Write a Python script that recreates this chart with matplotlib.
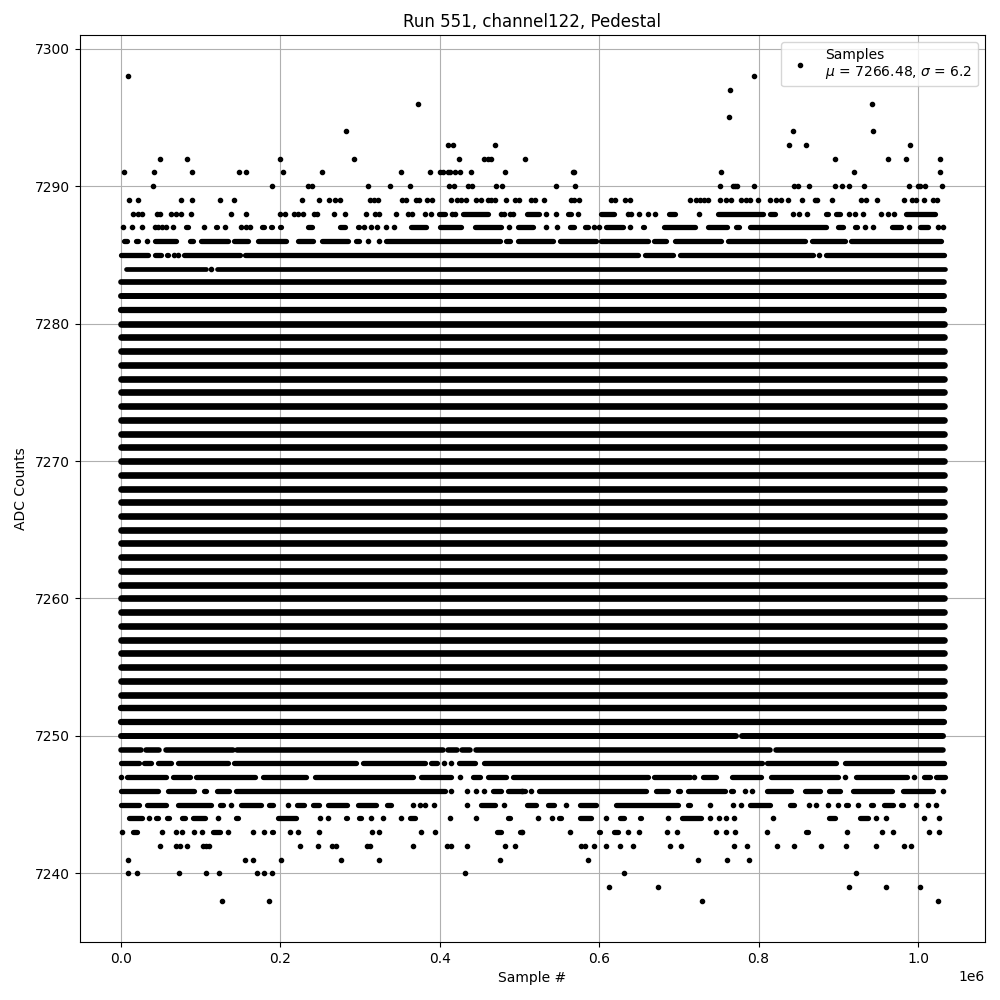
import matplotlib
matplotlib.use('Agg')
import matplotlib.pyplot as plt

# sample positions are in thousands of samples
# dots_N = isolated samples at ADC count N, runs_N = (start, end) of merged samples

dots_7298 = [8.4, 794]
dots_7297 = [764]
dots_7296 = [372.5, 942.5]
dots_7295 = [763]
dots_7294 = [282, 843, 943.7]
dots_7293 = [410, 416.5, 469, 838, 859.6, 990]
dots_7292 = [48.5, 82.5, 199, 292, 424, 455.5, 460.5, 464.5, 507, 896, 962.6, 985, 1028]
dots_7291 = [3.3, 41, 89, 148, 156.5, 203, 252, 351, 387.6, 400, 404, 410, 413, 418.6, 425, 439, 482,
             567, 569, 753, 920, 1028]
dots_7290 = [40, 189, 234, 239.5, 310, 337.5, 362.5, 412, 418, 435, 440, 470, 478, 546, 569.5, 751.6,
             768, 771, 773, 794, 845, 849, 863, 896, 905, 913.6, 932, 989, 1000, 1002, 1009, 1030]
dots_7289 = [9.6, 21, 75, 88.7, 124, 141.5, 227, 248, 261, 268, 274.6, 312, 318, 322, 352.5, 358, 369.6,
             374, 384, 390, 414, 421.5, 427, 433, 446, 452, 460.5, 464.6, 469, 483, 494, 499.4,
             514.6, 519.7, 530.6, 565, 569, 575, 615, 620, 632, 639, 714, 722, 726, 732, 736.5, 751.6,
             759.5, 766, 778, 784.6, 789.7, 799, 814, 822, 828.6, 837, 855, 870.5, 873.4, 892, 929, 935,
             949, 982.6, 993, 998, 1008, 1019, 1024.5]
dots_7288 = [14.6, 21, 26, 44.8, 49, 62.4, 68.6, 75, 87.5, 137.7, 156.6, 199, 205.5, 217, 222, 228, 242,
             245.7, 267, 281, 307, 318.6, 323.6, 345, 360, 365, 381, 389, 415, 419, 477, 481, 488, 492,
             533.5, 546, 573.7, 636, 640, 650, 661, 670, 725, 843, 851, 861, 913.6, 920.7, 931, 954,
             962.6, 969.7]
runs_7288 = [(396.4, 408), (427, 462.6), (508, 527), (558.6, 566), (600.5, 621), (686, 697), (747, 807.7),
             (812, 822), (882, 889), (895.6, 904), (983.5, 1023)]
dots_7287 = [3, 14, 26, 42, 47, 52, 56.5, 65, 104, 130, 151, 157, 162, 305.5, 314, 321, 332, 343, 487,
             533, 547, 593, 600, 639, 933, 943, 989, 1025, 1032]
runs_7287 = [(79.5, 86), (117, 122.6), (141, 145), (174.5, 182), (186, 191), (197, 203), (232, 241),
             (273, 282.5), (295, 301), (362, 385), (398, 429), (441.6, 479), (496, 519), (561, 571),
             (580, 588), (607, 632), (653, 658), (679, 722), (734, 762), (770, 778), (787, 887),
             (898, 908), (919, 925), (965, 981), (1000, 1015)]
dots_7286 = [32, 310, 324]
runs_7286 = [(2, 9.6), (17, 23), (40, 71), (85, 92), (98, 136), (140, 161), (170, 209), (220, 243),
             (250, 287), (293, 301), (331, 477), (481, 490), (496, 544), (549, 598), (600, 663),
             (667, 686), (693, 755), (760, 860), (865, 910), (914, 1031)]
dots_7285 = [66, 71, 875.5]
runs_7285 = [(0, 36), (40.6, 52), (56, 61), (77, 151), (154, 651), (656, 695), (699, 870), (882, 1035)]
dots_7284 = [113]
runs_7284 = [(4, 109), (119, 1036)]

# every count from 7251 up to 7283 is one unbroken row of samples
solid_counts = [7251, 7252, 7253, 7254, 7255, 7256, 7257, 7258, 7259, 7260, 7261, 7262, 7263, 7264, 7265,
                7266, 7267, 7268, 7269, 7270, 7271, 7272, 7273, 7274, 7275, 7276, 7277, 7278, 7279, 7280,
                7281, 7282, 7283]
solid_span = (0, 1033)

runs_7250 = [(0, 774), (777, 1034)]
runs_7249 = [(0, 27), (29, 50), (54, 142), (144, 406), (408, 423), (426, 440), (444, 816), (820, 1034)]
dots_7248 = [405, 413.6]
runs_7248 = [(0, 25), (27, 40), (44, 65), (69, 136), (140, 297), (301, 383), (387, 398), (421.5, 446),
             (454, 806), (809, 899), (906, 1035)]
dots_7247 = [0, 425, 719, 909, 995]
runs_7247 = [(6, 59), (63, 88), (92, 170), (176, 234), (241.5, 368), (375, 416.5), (439.6, 452), (458, 485.6),
             (490, 663), (667.4, 715.6), (728, 749), (764.6, 805.6), (813, 902), (920.7, 987.7),
             (1005.7, 1017), (1021, 1036)]
dots_7246 = [414, 434, 445, 455, 503, 514, 782.6, 792, 1031.6]
runs_7246 = [(0, 48), (56.5, 94), (102.5, 109), (119, 138), (142, 408), (465, 479), (484, 508.6), (523, 661),
             (669.5, 688), (697, 703), (709, 759.5), (764, 770), (809, 843), (856, 879), (887, 904),
             (916.5, 969), (979, 1021)]
dots_7245 = [138, 209, 366, 375.5, 381, 392.6, 434.5, 480.5, 558.6, 738.6, 768, 778, 863, 872.6, 887, 900,
             925, 997, 1013, 1023]
runs_7245 = [(0, 25), (30, 59), (70, 115), (122.6, 130), (148, 177), (184, 193), (218.5, 232), (238.6, 251),
             (258, 285), (295, 321.5), (332, 341), (450, 471), (507.5, 523), (533.5, 545), (574.5, 598),
             (619, 701), (709, 715.6), (787, 816), (837, 846.6), (908, 914.4), (938.7, 946), (956, 971),
             (977, 983.5)]
dots_7244 = [35, 122, 249.5, 259.5, 313.5, 328.6, 351, 412.7, 445, 523, 540.6, 608.4, 686, 739, 750, 759, 769,
             818, 947.5, 960.5, 1008, 1026.6]
runs_7244 = [(8, 28), (42, 48), (56, 62), (75, 82.5), (88, 107), (142, 148.6), (195, 222), (280.5, 285),
             (296, 303.5), (360, 370.5), (433, 437), (483.5, 490), (548, 554), (574.5, 592), (623.5, 633),
             (648.6, 654), (702, 730), (795, 799), (887, 898.5), (925, 939.5)]
dots_7243 = [1, 51, 68.6, 77, 91, 101, 134, 165, 179, 212, 222, 248, 315, 323.6, 376, 394, 503, 563, 636, 650,
             685, 697.6, 746.6, 759, 770, 810.6, 911, 955, 969, 1013.6, 1026.6]
runs_7243 = [(12.5, 22), (113, 125.6), (153, 158), (188, 192.5), (261, 266), (470, 479), (499, 505),
             (586, 590), (598, 602.6), (616, 625), (857, 864.6)]
dots_7242 = [48.6, 68.6, 74.5, 82.5, 103.4, 107, 111, 224, 247, 264.6, 270, 308.5, 312.7, 366, 409, 414, 434,
             482, 494, 577.4, 581.6, 593, 608.4, 626, 642, 689, 702.6, 769, 785.5, 823, 844.5, 878.4, 910,
             947.5, 982.6, 991.4]
dots_7241 = [8.4, 155, 165, 200.5, 276, 323.6, 475.5, 585.8, 724, 760, 788]
dots_7240 = [8.4, 19.7, 72.4, 106, 122.6, 170, 179, 189, 431.6, 631, 922.4]
dots_7239 = [612, 673.7, 913.6, 960, 1002.7]
dots_7238 = [126.4, 185.4, 729, 1025]

dot_rows = [(7298, dots_7298), (7297, dots_7297), (7296, dots_7296), (7295, dots_7295), (7294, dots_7294),
            (7293, dots_7293), (7292, dots_7292), (7291, dots_7291), (7290, dots_7290), (7289, dots_7289),
            (7288, dots_7288), (7287, dots_7287), (7286, dots_7286), (7285, dots_7285), (7284, dots_7284),
            (7248, dots_7248), (7247, dots_7247), (7246, dots_7246), (7245, dots_7245), (7244, dots_7244),
            (7243, dots_7243), (7242, dots_7242), (7241, dots_7241), (7240, dots_7240), (7239, dots_7239),
            (7238, dots_7238)]
run_rows = [(7288, runs_7288), (7287, runs_7287), (7286, runs_7286), (7285, runs_7285), (7284, runs_7284),
            (7250, runs_7250), (7249, runs_7249), (7248, runs_7248), (7247, runs_7247),
            (7246, runs_7246), (7245, runs_7245), (7244, runs_7244), (7243, runs_7243)]

# row thickness in points, rows with few samples look thinner
solid_lw = {7251: 4.5, 7252: 4.6, 7283: 4.1, 7282: 4.3, 7281: 4.5}
run_lw = {7284: 3.4, 7250: 4.3, 7249: 4.0}
inset = 2  # the run limits were read near the dot edges

x = []
y = []
for count, samples in dot_rows:
    for s in samples:
        x.append(s * 1000)
        y.append(count)

fig, ax = plt.subplots(figsize=(10, 10))
ax.plot(x, y, 'k.', label='Samples\n$\\mu$ = 7266.48, $\\sigma$ = 6.2')
for count in solid_counts:
    ax.plot([solid_span[0] * 1000, solid_span[1] * 1000], [count, count], 'k-',
            lw=solid_lw.get(count, 4.8), solid_capstyle='round')
for count, runs in run_rows:
    for start, end in runs:
        left = start + inset if start > 0 else 0
        right = max(end - inset, left)
        ax.plot([left * 1000, right * 1000], [count, count], 'k-',
                lw=run_lw.get(count, 3.8), solid_capstyle='round')

ax.set_xlim(-51500, 1083500)
ax.set_ylim(7235, 7301)
ax.grid()
ax.set_xlabel('Sample #')
ax.set_ylabel('ADC Counts', labelpad=5)
ax.set_title('Run 551, channel122, Pedestal')
ax.legend(loc='upper right')
fig.subplots_adjust(left=0.08, right=0.9845, top=0.965, bottom=0.058)
fig.savefig('out.png', dpi=100)
